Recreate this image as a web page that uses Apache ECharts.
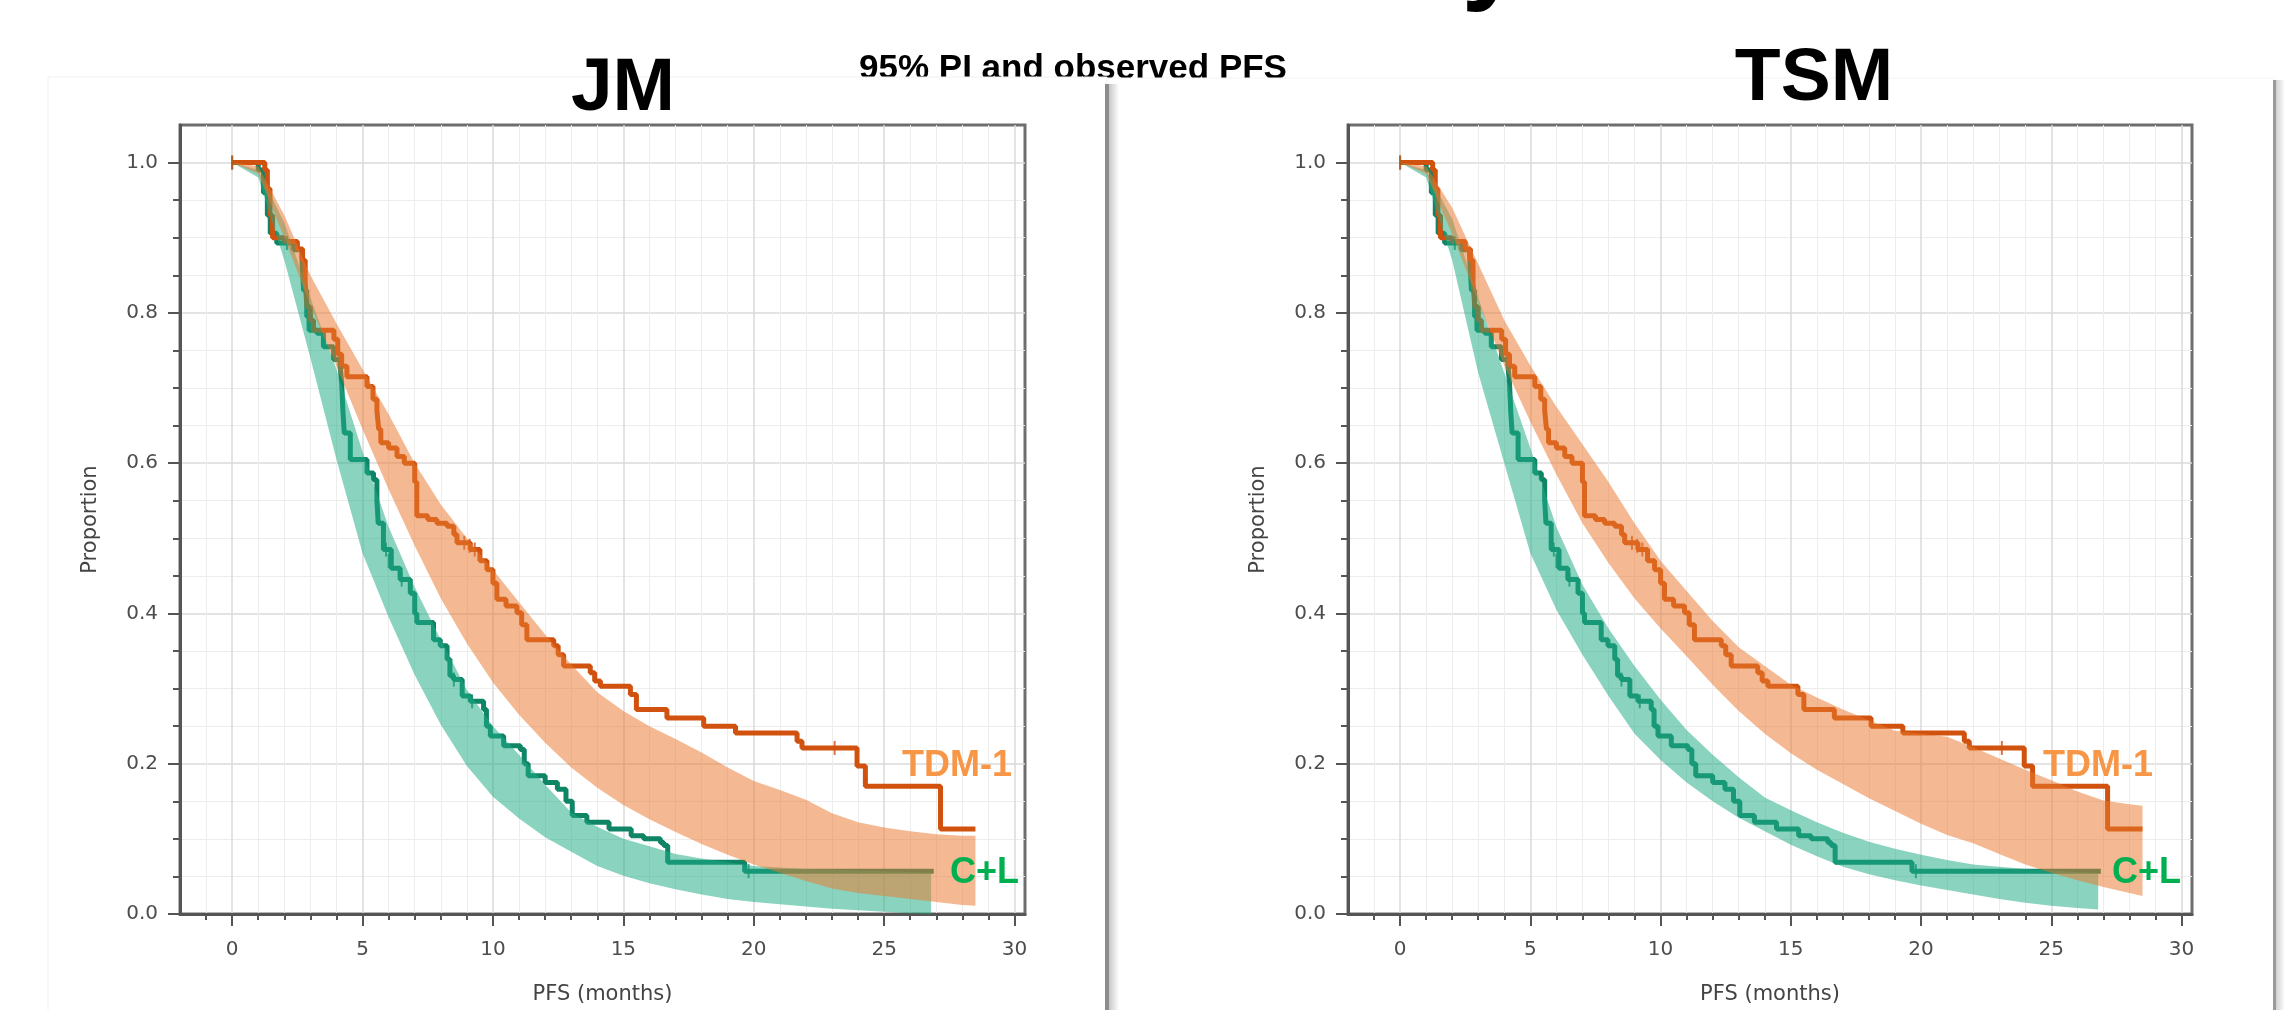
<!DOCTYPE html>
<html>
<head>
<meta charset="utf-8">
<script src="https://cdn.jsdelivr.net/npm/echarts@6/dist/echarts.min.js"></script>
<style>
html, body { margin: 0; padding: 0; background: #fff; }
#main { width: 2289px; height: 1010px; }
</style>
</head>
<body>
<div id="main"></div>
<script>
// observed Kaplan-Meier PFS (same in both panels)
var tdmT = [0,1.25,1.35,1.45,1.55,2.0,2.5,2.7,2.8,2.87,3.0,3.12,3.9,4.05,4.2,4.4,5.17,5.4,5.55,5.62,5.7,6.0,6.32,6.6,7.0,7.08,7.5,7.85,8.24,8.5,8.62,9.13,9.5,9.77,10.0,10.15,10.5,10.92,11.1,11.3,12.33,12.5,12.71,13.73,13.9,14.12,15.27,15.5,16.67,18.08,19.3,21.66,21.85,23.96,24.28,27.16,28.5];
var tdmS = [1.0,0.99,0.965,0.93,0.9,0.895,0.885,0.87,0.84,0.808,0.79,0.777,0.765,0.745,0.729,0.715,0.702,0.685,0.67,0.645,0.627,0.62,0.609,0.6,0.575,0.53,0.525,0.52,0.516,0.505,0.494,0.485,0.47,0.458,0.44,0.419,0.41,0.401,0.385,0.365,0.357,0.345,0.33,0.321,0.31,0.303,0.292,0.272,0.261,0.25,0.241,0.23,0.221,0.197,0.17,0.113,0.113];
var clT = [0,1.0,1.2,1.35,1.46,1.71,2.35,2.67,2.74,2.86,2.95,3.25,3.5,3.89,4.14,4.2,4.25,4.3,4.53,5.17,5.42,5.55,5.6,5.8,6.1,6.44,6.83,7.0,7.08,7.72,7.98,8.24,8.35,8.49,8.82,9.13,9.64,9.75,9.9,10.41,11.05,11.2,11.35,12.0,12.47,12.8,13.04,13.6,14.45,15.3,15.78,16.42,16.55,16.7,19.65,26.9];
var clS = [1.0,0.99,0.96,0.93,0.906,0.893,0.884,0.875,0.83,0.795,0.777,0.773,0.755,0.738,0.729,0.706,0.667,0.64,0.605,0.587,0.578,0.551,0.52,0.485,0.46,0.445,0.427,0.4,0.388,0.365,0.357,0.339,0.317,0.312,0.29,0.283,0.272,0.25,0.237,0.224,0.219,0.2,0.184,0.175,0.166,0.15,0.131,0.122,0.113,0.104,0.1,0.095,0.091,0.069,0.057,0.057];

// censor marks
var tdmCensorT = [0, 1.3, 8.9, 9.1, 9.3, 23.1];
var tdmCensorS = [1.0, 0.99, 0.494, 0.49, 0.485, 0.221];
var clCensorT = [0, 2.1, 4.2, 4.25, 5.9, 6.0, 6.5, 8.5, 9.2, 19.8];
var clCensorS = [1.0, 0.893, 0.72, 0.69, 0.485, 0.47, 0.445, 0.312, 0.283, 0.057];

// 95% prediction intervals
var orangeT = [0,1,2,3,4,5,6,7,8,9,10,11,12,13,14,15,16,17,18,19,20,21,22,23,24,25,26,27,28,28.5];
var greenT = [0,1,2,3,4,5,6,7,8,9,10,11,12,13,14,15,16,17,18,19,20,21,22,23,24,25,26,26.8];

var jmTdmHi = [1.0,0.995,0.93,0.85,0.786,0.725,0.665,0.6,0.545,0.5,0.458,0.415,0.372,0.332,0.295,0.27,0.25,0.233,0.215,0.195,0.177,0.165,0.152,0.134,0.122,0.115,0.11,0.106,0.104,0.104];
var jmTdmLo = [1.0,0.985,0.9,0.81,0.729,0.645,0.565,0.49,0.42,0.36,0.308,0.265,0.228,0.195,0.168,0.145,0.126,0.109,0.093,0.079,0.066,0.055,0.044,0.034,0.028,0.024,0.02,0.016,0.012,0.011];
var jmClHi = [1.0,0.99,0.92,0.82,0.725,0.615,0.515,0.435,0.365,0.298,0.25,0.212,0.172,0.135,0.116,0.1,0.09,0.08,0.074,0.069,0.064,0.062,0.06,0.059,0.058,0.057,0.056,0.055];
var jmClLo = [1.0,0.98,0.87,0.74,0.605,0.48,0.395,0.318,0.252,0.197,0.156,0.127,0.102,0.083,0.064,0.051,0.041,0.033,0.026,0.02,0.016,0.013,0.01,0.007,0.005,0.003,0.001,0.0];

var tsmTdmHi = [1.0,0.995,0.94,0.865,0.79,0.73,0.675,0.625,0.575,0.52,0.47,0.43,0.39,0.355,0.33,0.305,0.288,0.272,0.258,0.244,0.24,0.236,0.222,0.207,0.192,0.178,0.163,0.151,0.146,0.144];
var tsmTdmLo = [1.0,0.985,0.905,0.815,0.73,0.655,0.585,0.52,0.467,0.42,0.38,0.343,0.305,0.27,0.24,0.214,0.192,0.173,0.154,0.137,0.12,0.105,0.094,0.08,0.066,0.055,0.045,0.036,0.028,0.024];
var tsmClHi = [1.0,0.99,0.925,0.82,0.72,0.62,0.515,0.438,0.38,0.33,0.285,0.245,0.212,0.182,0.155,0.138,0.122,0.108,0.096,0.087,0.079,0.072,0.066,0.063,0.06,0.058,0.056,0.055];
var tsmClLo = [1.0,0.98,0.87,0.72,0.6,0.48,0.405,0.345,0.29,0.24,0.205,0.175,0.15,0.128,0.11,0.092,0.077,0.063,0.053,0.045,0.038,0.032,0.026,0.02,0.015,0.011,0.008,0.006];

// ticks
var xMajor = [0,5,10,15,20,25,30];
var xMinor = [-1,1,2,3,4,6,7,8,9,11,12,13,14,16,17,18,19,21,22,23,24,26,27,28,29];
var yMajor = [0,0.2,0.4,0.6,0.8,1.0];
var yMinor = [0.05,0.1,0.15,0.25,0.3,0.35,0.45,0.5,0.55,0.65,0.7,0.75,0.85,0.9,0.95];

var TDM_LINE = '#d0520e', CL_LINE = '#0f8566';
var TDM_BAND = 'rgba(234,120,46,0.52)', CL_BAND = 'rgba(31,170,133,0.52)';

function pairs(a, b) { return a.map(function (v, i) { return [v, b[i]]; }); }

// the bands are painted over the observed curves, as in the source figure
function band(g, t, lo, hi, color) {
    return {
        type: 'custom',
        xAxisIndex: g, yAxisIndex: g,
        silent: true, z: 5,
        data: t.map(function (v, i) { return [v, lo[i], hi[i]]; }),
        encode: { x: 0, y: [1, 2] },
        renderItem: function (params, api) {
            if (params.dataIndex !== 0) return null;
            var pts = [];
            for (var i = 0; i < t.length; i++) pts.push(api.coord([t[i], hi[i]]));
            for (var j = t.length - 1; j >= 0; j--) pts.push(api.coord([t[j], lo[j]]));
            return { type: 'polygon', shape: { points: pts }, style: { fill: color } };
        }
    };
}

function km(g, t, s, color) {
    return {
        type: 'line', xAxisIndex: g, yAxisIndex: g, step: 'end',
        data: pairs(t, s), symbol: 'none', z: 2, silent: true,
        lineStyle: { color: color, width: 5 }
    };
}

function censor(g, t, s, color) {
    return {
        type: 'scatter', xAxisIndex: g, yAxisIndex: g, z: 3, silent: true,
        data: pairs(t, s), symbol: 'rect', symbolSize: [2, 14],
        itemStyle: { color: color }
    };
}

var labelFont = { fontFamily: 'DejaVu Sans', fontSize: 20, color: '#4d4d4d' };

function majorX(g) {
    return {
        type: 'value', gridIndex: g, min: -2, max: 30.4, position: 'bottom',
        axisLine: { show: true, onZero: false, lineStyle: { color: '#555', width: 3 } },
        axisTick: { show: true, length: 12, customValues: xMajor, lineStyle: { color: '#555', width: 2 } },
        axisLabel: Object.assign({ customValues: xMajor, margin: 26 }, labelFont),
        splitLine: { show: true, lineStyle: { color: '#dadada', width: 1.5 } },
        name: 'PFS (months)', nameLocation: 'middle', nameGap: 70,
        nameTextStyle: { fontFamily: 'DejaVu Sans', fontSize: 21, color: '#444' }
    };
}
function minorX(g) {
    return {
        type: 'value', gridIndex: g, min: -2, max: 30.4, position: 'bottom',
        axisLine: { show: false },
        axisTick: { show: true, length: 6, customValues: xMinor, lineStyle: { color: '#555', width: 2 } },
        axisLabel: { show: false },
        splitLine: { show: true, lineStyle: { color: '#ededed', width: 1 } }
    };
}
function majorY(g) {
    return {
        type: 'value', gridIndex: g, min: 0, max: 1.05, position: 'left',
        axisLine: { show: true, onZero: false, lineStyle: { color: '#555', width: 3 } },
        axisTick: { show: true, length: 12, customValues: yMajor, lineStyle: { color: '#555', width: 2 } },
        axisLabel: Object.assign({ customValues: yMajor, margin: 22, formatter: function (v) { return v.toFixed(1); } }, labelFont),
        splitLine: { show: true, lineStyle: { color: '#dadada', width: 1.5 } },
        name: 'Proportion', nameLocation: 'middle', nameGap: 79,
        nameTextStyle: { fontFamily: 'DejaVu Sans', fontSize: 21, color: '#444' }
    };
}
function minorY(g) {
    return {
        type: 'value', gridIndex: g, min: 0, max: 1.05, position: 'left',
        axisLine: { show: false, onZero: false },
        axisTick: { show: true, length: 7, customValues: yMinor, lineStyle: { color: '#555', width: 2 } },
        axisLabel: { show: false },
        splitLine: { show: true, lineStyle: { color: '#ededed', width: 1 } }
    };
}

var chart = echarts.init(document.getElementById('main'));

var option = {
    backgroundColor: '#fff',
    animation: false,
    grid: [
        { left: 180, top: 125, width: 845, height: 790, show: true, backgroundColor: '#fff', borderColor: '#6e6e6e', borderWidth: 3 },
        { left: 1348, top: 125, width: 844, height: 790, show: true, backgroundColor: '#fff', borderColor: '#6e6e6e', borderWidth: 3 }
    ],
    xAxis: [majorX(0), majorX(1), minorX(0), minorX(1)],
    yAxis: [majorY(0), majorY(1), minorY(0), minorY(1)],
    graphic: [
        { type: 'text', z: -10, x: 1073, y: 69, style: { text: '95% PI and observed PFS', fill: '#000', font: 'bold 35px "Liberation Sans"', align: 'center', verticalAlign: 'middle' } },
        { type: 'text', z: -10, x: 1492, y: -41, style: { text: 'y', fill: '#000', font: 'bold 110px "Liberation Sans"', align: 'center', verticalAlign: 'middle' } },
        { type: 'rect', z: -5, shape: { x: 48, y: 77, width: 1059, height: 940 }, style: { fill: '#fff', stroke: '#f0f0f0', lineWidth: 1 } },
        { type: 'rect', z: -5, shape: { x: 1107, y: 78, width: 1168, height: 940 }, style: { fill: '#fff', stroke: '#f3f3f3', lineWidth: 1 } },
        { type: 'rect', z: -4, shape: { x: 1105, y: 84, width: 4, height: 930 }, style: { fill: '#8c8c8c' } },
        { type: 'rect', z: -4, shape: { x: 1109, y: 84, width: 10, height: 930 },
          style: { fill: new echarts.graphic.LinearGradient(0, 0, 1, 0, [{ offset: 0, color: 'rgba(0,0,0,0.22)' }, { offset: 1, color: 'rgba(0,0,0,0)' }]) } },
        { type: 'rect', z: -4, shape: { x: 2273, y: 80, width: 3, height: 934 }, style: { fill: '#9a9a9a' } },
        { type: 'rect', z: -4, shape: { x: 2276, y: 80, width: 9, height: 934 },
          style: { fill: new echarts.graphic.LinearGradient(0, 0, 1, 0, [{ offset: 0, color: 'rgba(0,0,0,0.18)' }, { offset: 1, color: 'rgba(0,0,0,0)' }]) } },
        { type: 'text', z: 10, x: 623, y: 89, style: { text: 'JM', fill: '#000', font: 'bold 75px "Liberation Sans"', align: 'center', verticalAlign: 'middle' } },
        { type: 'text', z: 10, x: 1814, y: 79, style: { text: 'TSM', fill: '#000', font: 'bold 75px "Liberation Sans"', align: 'center', verticalAlign: 'middle' } },
        { type: 'text', z: 10, x: 902, y: 766, style: { text: 'TDM-1', fill: '#f79646', font: 'bold 36px "Liberation Sans"', align: 'left', verticalAlign: 'middle' } },
        { type: 'text', z: 10, x: 950, y: 873, style: { text: 'C+L', fill: '#00b050', font: 'bold 36px "Liberation Sans"', align: 'left', verticalAlign: 'middle' } },
        { type: 'text', z: 10, x: 2043, y: 766, style: { text: 'TDM-1', fill: '#f79646', font: 'bold 36px "Liberation Sans"', align: 'left', verticalAlign: 'middle' } },
        { type: 'text', z: 10, x: 2112, y: 873, style: { text: 'C+L', fill: '#00b050', font: 'bold 36px "Liberation Sans"', align: 'left', verticalAlign: 'middle' } }
    ],
    series: [
        km(0, clT, clS, CL_LINE),
        km(0, tdmT, tdmS, TDM_LINE),
        censor(0, clCensorT, clCensorS, CL_LINE),
        censor(0, tdmCensorT, tdmCensorS, TDM_LINE),
        band(0, greenT, jmClLo, jmClHi, CL_BAND),
        band(0, orangeT, jmTdmLo, jmTdmHi, TDM_BAND),
        km(1, clT, clS, CL_LINE),
        km(1, tdmT, tdmS, TDM_LINE),
        censor(1, clCensorT, clCensorS, CL_LINE),
        censor(1, tdmCensorT, tdmCensorS, TDM_LINE),
        band(1, greenT, tsmClLo, tsmClHi, CL_BAND),
        band(1, orangeT, tsmTdmLo, tsmTdmHi, TDM_BAND)
    ]
};

chart.setOption(option);
</script>
</body>
</html>
